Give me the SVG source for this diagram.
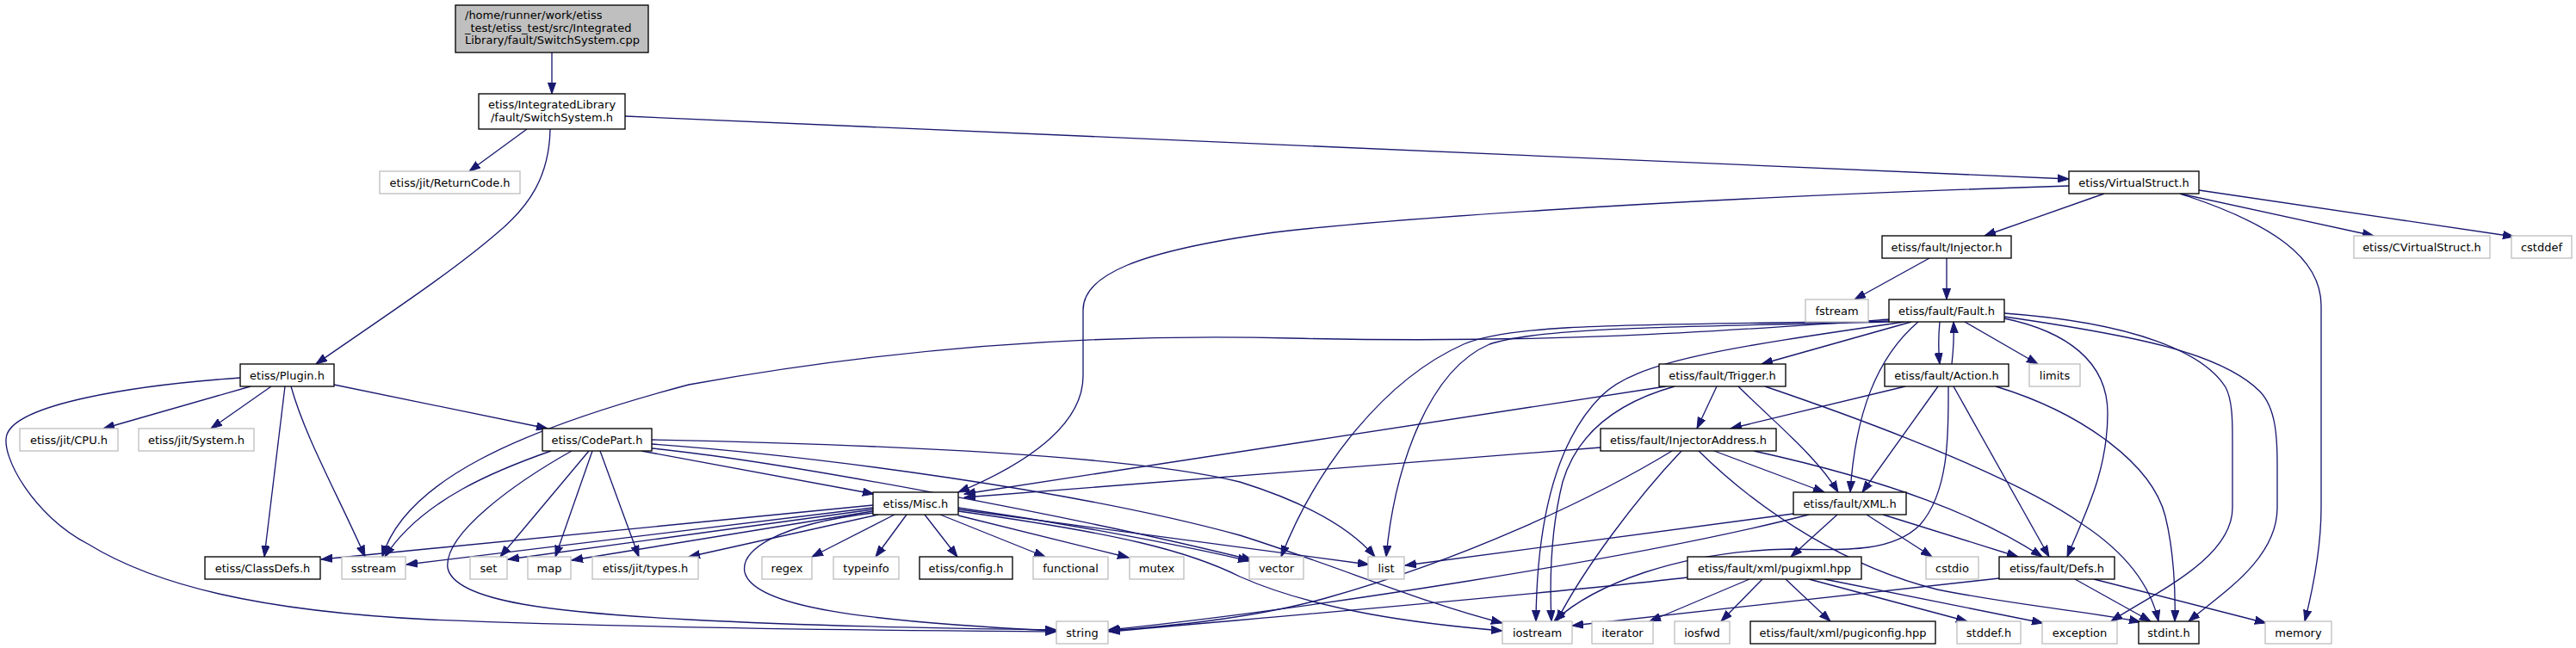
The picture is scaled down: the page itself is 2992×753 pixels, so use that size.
<svg xmlns="http://www.w3.org/2000/svg" width="2992" height="753" viewBox="0 0 2992 753">
<style>
.n rect{fill:#fff;stroke:#000;stroke-width:1.33}
.g rect{fill:#fff;stroke:#bfbfbf;stroke-width:1.33}
.r rect{fill:#bfbfbf;stroke:#000;stroke-width:1.33}
text{font-family:"DejaVu Sans","Liberation Sans",sans-serif;font-size:13px;fill:#000;text-anchor:middle}
.r text{text-anchor:start}
#edges path{fill:none;stroke:#191970;stroke-width:1.33;marker-end:url(#a)}
</style>
<defs>
<marker id="a" markerUnits="userSpaceOnUse" markerWidth="14" markerHeight="10" refX="13" refY="5" orient="auto" viewBox="0 0 14 10"><path d="M0,0.4 L13,5 L0,9.6z" fill="#191970" stroke="#191970" stroke-width="1"/></marker>
</defs>
<rect width="2992" height="753" fill="#fff"/>
<g id="edges">
<path d="M641,61 L641,109"/>
<path d="M612,150 L545,199"/>
<path d="M639,150 C638,205 615,240 576,272 C520,320 440,372 367,423"/>
<path d="M726,135 L2403,208"/>
<path d="M2403,216 C1900,232 1580,258 1480,270 C1320,292 1258,320 1258,360 L1258,437 C1258,495 1190,540 1113,572"/>
<path d="M2444,225 L2305,274"/>
<path d="M2532,225 L2757,274"/>
<path d="M2554,221 L2920,275"/>
<path d="M2532,225 C2640,260 2696,300 2696,355 L2696,590 C2696,640 2685,690 2677,722"/>
<path d="M2241,300 L2154,348"/>
<path d="M2261,300 L2261,348"/>
<path d="M2194,371 C2000,385 1800,400 1500,393 C1200,385 950,420 800,447 C600,500 470,560 444,647"/>
<path d="M2220,374 L2046,423"/>
<path d="M2253,374 C2251,395 2251,405 2253,423"/>
<path d="M2267,423 C2269,405 2270,395 2269,374"/>
<path d="M2282,374 L2367,423"/>
<path d="M2228,374 C2180,415 2155,480 2149,572"/>
<path d="M2194,374 C1950,380 1790,380 1730,400 C1660,430 1620,540 1610,647"/>
<path d="M2194,373 C1900,378 1760,375 1700,400 C1610,440 1530,540 1488,647"/>
<path d="M2212,374 C2000,405 1900,420 1860,460 C1810,510 1785,600 1784,722"/>
<path d="M2328,370 C2400,385 2448,420 2448,480 C2448,550 2420,600 2401,647"/>
<path d="M2328,364 C2480,375 2560,410 2585,450 C2593,465 2593,490 2593,510 L2593,590 C2593,650 2500,690 2452,722"/>
<path d="M2328,368 C2480,390 2580,410 2625,455 C2644,475 2645,510 2645,540 L2645,590 C2645,650 2580,690 2542,722"/>
<path d="M1935,449 L1120,574"/>
<path d="M1994,449 L1971,498"/>
<path d="M2019,449 C2060,490 2110,530 2135,572"/>
<path d="M1945,449 C1870,470 1830,510 1815,560 C1800,620 1800,680 1802,722"/>
<path d="M2050,449 C2200,500 2350,560 2420,610 C2480,650 2500,690 2507,722"/>
<path d="M2213,449 L2010,498"/>
<path d="M2251,449 L2163,572"/>
<path d="M2269,449 L2380,647"/>
<path d="M2318,449 C2420,480 2500,540 2515,600 C2525,640 2527,690 2526,722"/>
<path d="M2263,449 C2263,500 2265,570 2230,610 C2200,640 2150,640 2080,638 C1950,640 1850,680 1805,722"/>
<path d="M1859,520 L1120,578"/>
<path d="M1942,524 C1850,580 1700,650 1540,695 C1450,720 1350,728 1287,733"/>
<path d="M1953,524 C1900,580 1840,660 1808,722"/>
<path d="M1991,524 L2119,572"/>
<path d="M2037,524 C2200,560 2300,600 2372,647"/>
<path d="M1973,524 C2050,600 2150,660 2250,685 C2350,705 2440,712 2486,723"/>
<path d="M2083,597 L1632,657"/>
<path d="M2101,598 C1900,650 1500,710 1287,732"/>
<path d="M2134,598 L2080,647"/>
<path d="M2168,598 L2244,647"/>
<path d="M2187,598 L2344,647"/>
<path d="M1960,671 C1800,690 1500,715 1288,734"/>
<path d="M2032,673 L1916,722"/>
<path d="M2047,673 L1999,722"/>
<path d="M2074,673 L2126,722"/>
<path d="M2101,673 L2285,722"/>
<path d="M2119,673 L2373,724"/>
<path d="M2322,672 L1826,727"/>
<path d="M2410,673 L2498,722"/>
<path d="M2432,673 L2632,724"/>
<path d="M291,449 L120,498"/>
<path d="M315,449 L245,498"/>
<path d="M331,449 L307,647"/>
<path d="M338,449 C355,510 395,580 424,647"/>
<path d="M388,447 L636,498"/>
<path d="M279,439 C150,448 20,470 8,505 C0,530 40,600 102,632 C180,680 300,710 500,720 C800,732 1100,733 1227,734"/>
<path d="M640,524 C580,545 490,580 447,647"/>
<path d="M684,524 L581,647"/>
<path d="M688,524 L645,647"/>
<path d="M697,524 L742,647"/>
<path d="M664,524 C600,560 515,620 520,660 C528,700 650,712 800,720 C950,728 1100,730 1227,732"/>
<path d="M745,524 L1015,574"/>
<path d="M757,511 C950,515 1300,525 1440,560 C1520,585 1570,615 1597,647"/>
<path d="M757,516 C950,530 1250,570 1440,622 C1560,660 1650,700 1745,724"/>
<path d="M757,521 C900,535 1250,600 1455,651"/>
<path d="M1014,587 L373,650"/>
<path d="M1014,590 L472,656"/>
<path d="M1014,592 L590,650"/>
<path d="M1014,594 L664,651"/>
<path d="M1020,598 L800,647"/>
<path d="M1039,598 L943,647"/>
<path d="M1053,598 L1017,647"/>
<path d="M1074,598 L1112,647"/>
<path d="M1092,598 L1214,647"/>
<path d="M1113,599 L1311,648"/>
<path d="M1113,590 C1250,610 1380,635 1451,652"/>
<path d="M1113,592 L1590,656"/>
<path d="M1113,594 C1300,620 1380,640 1440,670 C1530,710 1650,725 1745,733"/>
<path d="M1014,596 C900,610 860,640 865,665 C875,705 1000,722 1227,733"/>
</g>
<g id="root" class="r"><rect x="529" y="6" width="224" height="55"/><text x="540" y="22">/home/runner/work/etiss</text><text x="540" y="37">_test/etiss_test/src/Integrated</text><text x="540" y="51">Library/fault/SwitchSystem.cpp</text></g>
<g id="switchsystem" class="n"><rect x="556" y="109" width="170" height="41"/><text x="641" y="126">etiss/IntegratedLibrary</text><text x="641" y="141">/fault/SwitchSystem.h</text></g>
<g id="returncode" class="g"><rect x="441" y="199" width="163" height="26"/><text x="522.5" y="216.5">etiss/jit/ReturnCode.h</text></g>
<g id="virtualstruct" class="n"><rect x="2403" y="199" width="151" height="26"/><text x="2478.5" y="216.5">etiss/VirtualStruct.h</text></g>
<g id="injector" class="n"><rect x="2186" y="274" width="150" height="26"/><text x="2261" y="291.5">etiss/fault/Injector.h</text></g>
<g id="cvirtualstruct" class="g"><rect x="2734" y="274" width="158" height="26"/><text x="2813" y="291.5">etiss/CVirtualStruct.h</text></g>
<g id="cstddef" class="g"><rect x="2917" y="274" width="70" height="26"/><text x="2952" y="291.5">cstddef</text></g>
<g id="fstream" class="g"><rect x="2097" y="348" width="73" height="26"/><text x="2133.5" y="365.5">fstream</text></g>
<g id="fault" class="n"><rect x="2194" y="348" width="134" height="26"/><text x="2261" y="365.5">etiss/fault/Fault.h</text></g>
<g id="plugin" class="n"><rect x="279" y="423" width="109" height="26"/><text x="333.5" y="440.5">etiss/Plugin.h</text></g>
<g id="trigger" class="n"><rect x="1927" y="423" width="147" height="26"/><text x="2000.5" y="440.5">etiss/fault/Trigger.h</text></g>
<g id="action" class="n"><rect x="2189" y="423" width="144" height="26"/><text x="2261" y="440.5">etiss/fault/Action.h</text></g>
<g id="limits" class="g"><rect x="2357" y="423" width="59" height="26"/><text x="2386.5" y="440.5">limits</text></g>
<g id="cpu" class="g"><rect x="23" y="498" width="114" height="26"/><text x="80" y="515.5">etiss/jit/CPU.h</text></g>
<g id="system" class="g"><rect x="161" y="498" width="134" height="26"/><text x="228" y="515.5">etiss/jit/System.h</text></g>
<g id="codepart" class="n"><rect x="630" y="498" width="127" height="26"/><text x="693.5" y="515.5">etiss/CodePart.h</text></g>
<g id="injectoraddress" class="n"><rect x="1859" y="498" width="204" height="26"/><text x="1961" y="515.5">etiss/fault/InjectorAddress.h</text></g>
<g id="misc" class="n"><rect x="1014" y="572" width="99" height="26"/><text x="1063.5" y="589.5">etiss/Misc.h</text></g>
<g id="xml" class="n"><rect x="2083" y="572" width="131" height="26"/><text x="2148.5" y="589.5">etiss/fault/XML.h</text></g>
<g id="classdefs" class="n"><rect x="238" y="647" width="134" height="26"/><text x="305" y="664.5">etiss/ClassDefs.h</text></g>
<g id="sstream" class="g"><rect x="397" y="647" width="74" height="26"/><text x="434" y="664.5">sstream</text></g>
<g id="set" class="g"><rect x="546" y="647" width="43" height="26"/><text x="567.5" y="664.5">set</text></g>
<g id="map" class="g"><rect x="613" y="647" width="50" height="26"/><text x="638" y="664.5">map</text></g>
<g id="types" class="g"><rect x="688" y="647" width="123" height="26"/><text x="749.5" y="664.5">etiss/jit/types.h</text></g>
<g id="regex" class="g"><rect x="885" y="647" width="58" height="26"/><text x="914" y="664.5">regex</text></g>
<g id="typeinfo" class="g"><rect x="968" y="647" width="76" height="26"/><text x="1006" y="664.5">typeinfo</text></g>
<g id="config" class="n"><rect x="1068" y="647" width="108" height="26"/><text x="1122" y="664.5">etiss/config.h</text></g>
<g id="functional" class="g"><rect x="1200" y="647" width="87" height="26"/><text x="1243.5" y="664.5">functional</text></g>
<g id="mutex" class="g"><rect x="1312" y="647" width="63" height="26"/><text x="1343.5" y="664.5">mutex</text></g>
<g id="vector" class="g"><rect x="1451" y="647" width="63" height="26"/><text x="1482.5" y="664.5">vector</text></g>
<g id="list" class="g"><rect x="1589" y="647" width="42" height="26"/><text x="1610" y="664.5">list</text></g>
<g id="pugixml" class="n"><rect x="1960" y="647" width="202" height="26"/><text x="2061" y="664.5">etiss/fault/xml/pugixml.hpp</text></g>
<g id="cstdio" class="g"><rect x="2237" y="647" width="61" height="26"/><text x="2267.5" y="664.5">cstdio</text></g>
<g id="defs" class="n"><rect x="2322" y="647" width="134" height="26"/><text x="2389" y="664.5">etiss/fault/Defs.h</text></g>
<g id="string" class="g"><rect x="1227" y="722" width="60" height="26"/><text x="1257" y="739.5">string</text></g>
<g id="iostream" class="g"><rect x="1745" y="722" width="81" height="26"/><text x="1785.5" y="739.5">iostream</text></g>
<g id="iterator" class="g"><rect x="1849" y="722" width="71" height="26"/><text x="1884.5" y="739.5">iterator</text></g>
<g id="iosfwd" class="g"><rect x="1945" y="722" width="64" height="26"/><text x="1977" y="739.5">iosfwd</text></g>
<g id="pugiconfig" class="n"><rect x="2033" y="722" width="215" height="26"/><text x="2140.5" y="739.5">etiss/fault/xml/pugiconfig.hpp</text></g>
<g id="stddef" class="g"><rect x="2273" y="722" width="74" height="26"/><text x="2310" y="739.5">stddef.h</text></g>
<g id="exception" class="g"><rect x="2372" y="722" width="87" height="26"/><text x="2415.5" y="739.5">exception</text></g>
<g id="stdint" class="n"><rect x="2484" y="722" width="70" height="26"/><text x="2519" y="739.5">stdint.h</text></g>
<g id="memory" class="g"><rect x="2631" y="722" width="77" height="26"/><text x="2669.5" y="739.5">memory</text></g>
</svg>
